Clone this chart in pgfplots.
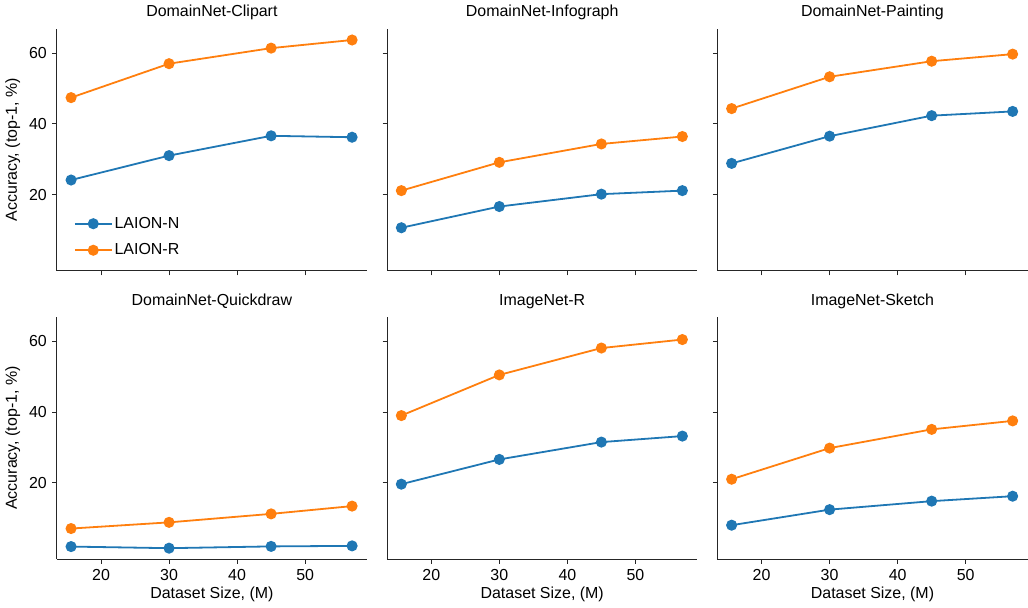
\documentclass[border=0pt]{standalone}
\usepackage{fontspec}
\setmainfont{Liberation Sans}
\usepackage{pgfplots}
\pgfplotsset{compat=1.18}
\usepgfplotslibrary{groupplots}

\definecolor{tabblue}{HTML}{1F77B4}
\definecolor{taborange}{HTML}{FF7F0E}

\pgfplotsset{
  panel/.style={
    scale only axis,
    width=310bp, height=242bp,
    xmin=13.5, xmax=59.1, ymin=-1.6, ymax=66.9,
    xtick={20,30,40,50}, ytick={20,40,60},
    axis x line*=bottom, axis y line*=left,
    axis line style={-, black!85, line width=0.8bp},
    tick align=outside, tick pos=left,
    major tick length=4.5bp,
    tick style={black!85, line width=0.8bp},
    /pgf/number format/assume math mode=true,
    title style={yshift=-3bp},
    xlabel style={yshift=4bp},
    ylabel style={yshift=-2bp},
  },
  nser/.style={tabblue, line width=1.8bp, mark=*, mark size=4.6bp, mark options={fill=tabblue, draw=tabblue}},
  rser/.style={taborange, line width=1.8bp, mark=*, mark size=4.6bp, mark options={fill=taborange, draw=taborange}},
}

\begin{document}
\fontsize{16}{19}\selectfont
\begin{tikzpicture}
\begin{groupplot}[
  group style={group size=3 by 2, horizontal sep=20bp, vertical sep=46bp,
    x descriptions at=edge bottom, y descriptions at=edge left},
  panel,
  xlabel={Dataset Size, (M)},
  ylabel={Accuracy, (top-1, \%)},
]
% DomainNet-Clipart
\nextgroupplot[title={DomainNet-Clipart},
  legend style={draw=none, fill=none, at={(0.045,0.04)}, anchor=south west,
    row sep=9bp, legend cell align=left},
  legend image code/.code={\draw[line width=1.8bp, mark repeat=2, mark phase=2]
    plot coordinates {(0cm,0cm) (0.65cm,0cm) (1.3cm,0cm)};}]
\addplot[nser] coordinates {(15.6,24.1) (30,31.0) (45,36.6) (56.9,36.2)};
\addlegendentry{LAION-N}
\addplot[rser] coordinates {(15.6,47.4) (30,57.0) (45,61.4) (56.9,63.7)};
\addlegendentry{LAION-R}

% DomainNet-Infograph
\nextgroupplot[title={DomainNet-Infograph}]
\addplot[nser] coordinates {(15.6,10.6) (30,16.6) (45,20.1) (56.9,21.1)};
\addplot[rser] coordinates {(15.6,21.1) (30,29.1) (45,34.3) (56.9,36.4)};

% DomainNet-Painting
\nextgroupplot[title={DomainNet-Painting}]
\addplot[nser] coordinates {(15.6,28.8) (30,36.5) (45,42.3) (56.9,43.5)};
\addplot[rser] coordinates {(15.6,44.3) (30,53.3) (45,57.7) (56.9,59.7)};

% DomainNet-Quickdraw
\nextgroupplot[title={DomainNet-Quickdraw}]
\addplot[nser] coordinates {(15.6,1.95) (30,1.5) (45,2.0) (56.9,2.15)};
\addplot[rser] coordinates {(15.6,7.05) (30,8.8) (45,11.2) (56.9,13.4)};

% ImageNet-R
\nextgroupplot[title={ImageNet-R}]
\addplot[nser] coordinates {(15.6,19.6) (30,26.6) (45,31.5) (56.9,33.2)};
\addplot[rser] coordinates {(15.6,39.0) (30,50.5) (45,58.1) (56.9,60.5)};

% ImageNet-Sketch
\nextgroupplot[title={ImageNet-Sketch}]
\addplot[nser] coordinates {(15.6,8.0) (30,12.4) (45,14.8) (56.9,16.2)};
\addplot[rser] coordinates {(15.6,21.0) (30,29.8) (45,35.1) (56.9,37.5)};
\end{groupplot}
\end{tikzpicture}
\end{document}
